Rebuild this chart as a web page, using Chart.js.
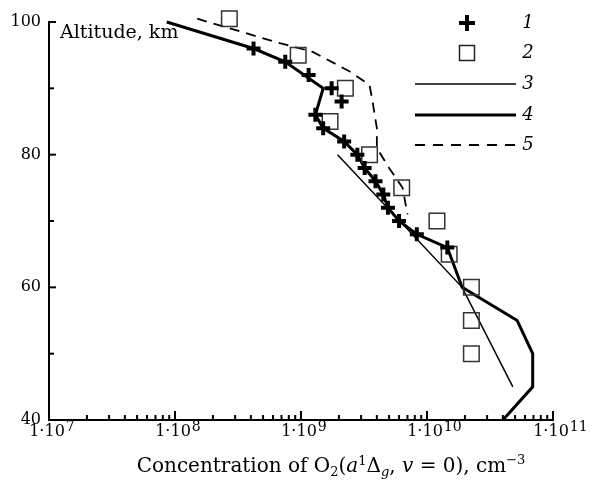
<!DOCTYPE html>
<html>
<head>
<meta charset="utf-8">
<script src="https://cdn.jsdelivr.net/npm/chart.js@4/dist/chart.umd.min.js"></script>
<style>
  html, body { margin: 0; padding: 0; background: #fff; }
  #wrap { width: 604px; height: 486px; }
</style>
</head>
<body>
<div id="wrap"><canvas id="chart" width="604" height="486"></canvas></div>
<script>
// series 1: crosses
const crossAlt = [96, 94, 92, 90, 88, 86, 84, 82, 80, 78, 76, 74, 72, 70, 68, 66];
const crossConc = [4.2e8, 7.5e8, 1.15e9, 1.75e9, 2.1e9, 1.3e9, 1.5e9, 2.2e9, 2.8e9, 3.2e9, 3.9e9, 4.5e9, 4.9e9, 6.0e9, 8.3e9, 1.45e10];
// series 2: squares
const squareAlt = [100.5, 95, 90, 85, 80, 75, 70, 65, 60, 55, 50];
const squareConc = [2.7e8, 9.5e8, 2.25e9, 1.7e9, 3.5e9, 6.3e9, 1.2e10, 1.5e10, 2.25e10, 2.25e10, 2.25e10];
// series 3: thin line
const line3Alt = [80, 60, 45];
const line3Conc = [1.95e9, 1.9e10, 4.8e10];
// series 4: thick line
const line4Alt = [100, 96, 94, 90, 86, 84, 82, 80, 78, 76, 74, 72, 70, 68, 66, 60, 55, 50, 45, 40];
const line4Conc = [8.6e7, 4.2e8, 7.5e8, 1.5e9, 1.3e9, 1.5e9, 2.2e9, 2.8e9, 3.2e9, 3.9e9, 4.5e9, 4.9e9, 6.0e9, 8.3e9, 1.45e10, 1.9e10, 5.2e10, 6.9e10, 6.9e10, 4.0e10];
// series 5: dashed line
const line5Alt = [100.5, 96.8, 95.5, 92.5, 90.5, 88, 84, 81, 78, 75, 71];
const line5Conc = [1.5e8, 6.8e8, 1.24e9, 2.46e9, 3.5e9, 3.7e9, 4.0e9, 4.0e9, 5.0e9, 6.4e9, 7.0e9];

const yTicks = [40, 60, 80, 100];
const xDecades = [7, 8, 9, 10, 11];
const legendLabels = ['1', '2', '3', '4', '5'];

const SERIF = '"DejaVu Serif", serif';

function pts(xs, ys) {
  return xs.map((x, i) => ({ x: x, y: ys[i] }));
}

// ticks inside, x labels with exponents, axis titles and legend
const decorations = {
  id: 'decorations',
  afterDraw(chart) {
    const ctx = chart.ctx;
    const xs = chart.scales.x, ys = chart.scales.y;
    const area = chart.chartArea;
    ctx.save();
    ctx.strokeStyle = '#000';
    ctx.lineWidth = 2;

    // y ticks
    for (let v = 40; v <= 100; v += 10) {
      const py = ys.getPixelForValue(v);
      const len = v % 20 === 0 ? 7 : 5;
      ctx.beginPath();
      ctx.moveTo(area.left, py);
      ctx.lineTo(area.left + len, py);
      ctx.stroke();
    }
    // x ticks
    xDecades.forEach(d => {
      for (let m = 1; m <= 9; m++) {
        if (d === 11 && m > 1) break;
        const px = xs.getPixelForValue(m * Math.pow(10, d));
        const len = m === 1 ? 9 : 5;
        ctx.beginPath();
        ctx.moveTo(px, area.bottom);
        ctx.lineTo(px, area.bottom - len);
        ctx.stroke();
      }
    });

    // x tick labels 1·10^n
    ctx.fillStyle = '#000';
    ctx.textBaseline = 'alphabetic';
    xDecades.forEach(d => {
      const px = xs.getPixelForValue(Math.pow(10, d));
      ctx.font = '16px ' + SERIF;
      const base = '1\u00b710';
      const w = ctx.measureText(base).width;
      ctx.textAlign = 'left';
      ctx.fillText(base, px - w / 2 - 2, area.bottom + 16);
      ctx.font = '14px ' + SERIF;
      ctx.fillText(String(d), px + w / 2 - 1, area.bottom + 11);
    });

    // y axis title inside plot
    ctx.font = '19px ' + SERIF;
    ctx.textAlign = 'left';
    ctx.fillText('Altitude, km', 60, 38);

    // x axis title with sub/superscripts
    const big = '20px ' + SERIF, bigI = 'italic 20px ' + SERIF;
    const small = '13px ' + SERIF, smallI = 'italic 13px ' + SERIF;
    const parts = [
      ['Concentration of O', big, 0], ['2', small, 4], ['(', big, 0], ['a', bigI, 0],
      ['1', small, -7], ['\u0394', big, 0], ['g', smallI, 4], [', ', big, 0], ['v', bigI, 0],
      [' = 0), cm', big, 0], ['\u22123', small, -8]
    ];
    let total = 0;
    parts.forEach(p => { ctx.font = p[1]; total += ctx.measureText(p[0]).width; });
    let cx = 331 - total / 2;
    const by = 472;
    parts.forEach(p => {
      ctx.font = p[1];
      ctx.fillText(p[0], cx, by + p[2]);
      cx += ctx.measureText(p[0]).width;
    });

    // legend
    const lx1 = 415, lx2 = 516, mx = 467, tx = 528;
    const rows = [23, 53, 84, 115, 145];
    // 1: cross
    ctx.lineWidth = 4;
    ctx.beginPath();
    ctx.moveTo(mx - 8, rows[0]); ctx.lineTo(mx + 8, rows[0]);
    ctx.moveTo(mx, rows[0] - 8); ctx.lineTo(mx, rows[0] + 8);
    ctx.stroke();
    // 2: square
    ctx.lineWidth = 1.5;
    ctx.strokeStyle = '#222';
    ctx.strokeRect(mx - 7.5, rows[1] - 7.5, 15, 15);
    ctx.strokeStyle = '#000';
    // 3, 4, 5: lines
    [[1.5, []], [3, []], [2, [10, 8]]].forEach((s, i) => {
      ctx.lineWidth = s[0];
      ctx.setLineDash(s[1]);
      ctx.beginPath();
      ctx.moveTo(lx1, rows[i + 2]);
      ctx.lineTo(lx2, rows[i + 2]);
      ctx.stroke();
    });
    ctx.setLineDash([]);
    ctx.font = 'italic 18px ' + SERIF;
    ctx.textAlign = 'center';
    ctx.textBaseline = 'middle';
    legendLabels.forEach((t, i) => ctx.fillText(t, tx, rows[i]));
    ctx.restore();
  }
};

new Chart(document.getElementById('chart'), {
  type: 'scatter',
  data: {
    datasets: [
      {
        label: '1', data: pts(crossConc, crossAlt), showLine: false,
        pointStyle: 'cross', pointRadius: 7, borderWidth: 4,
        borderColor: '#000', backgroundColor: '#000', clip: false
      },
      {
        label: '2', data: pts(squareConc, squareAlt), showLine: false,
        pointStyle: 'rect', pointRadius: 11, borderWidth: 1.5,
        borderColor: '#333', backgroundColor: 'rgba(0,0,0,0)', clip: false
      },
      {
        label: '3', data: pts(line3Conc, line3Alt), showLine: true,
        pointRadius: 0, borderWidth: 1.5, borderColor: '#000', clip: false
      },
      {
        label: '4', data: pts(line4Conc, line4Alt), showLine: true,
        pointRadius: 0, borderWidth: 3, borderColor: '#000', clip: false
      },
      {
        label: '5', data: pts(line5Conc, line5Alt), showLine: true,
        pointRadius: 0, borderWidth: 1.8, borderDash: [10, 7], borderColor: '#000', clip: false
      }
    ]
  },
  options: {
    responsive: false,
    animation: false,
    layout: { padding: { top: 22, right: 51, left: 0, bottom: 0 } },
    plugins: {
      legend: { display: false },
      tooltip: { enabled: false }
    },
    scales: {
      x: {
        type: 'logarithmic',
        min: 1e7,
        max: 1e11,
        grid: { display: false, drawTicks: false },
        border: { display: true, color: '#000', width: 2 },
        ticks: { display: false },
        afterFit: s => { s.height = 66; }
      },
      y: {
        type: 'linear',
        min: 40,
        max: 100,
        grid: { display: false, drawTicks: false },
        border: { display: true, color: '#000', width: 2 },
        afterBuildTicks: s => { s.ticks = yTicks.map(v => ({ value: v })); },
        ticks: {
          color: '#000',
          padding: 8,
          font: { family: 'DejaVu Serif', size: 16 }
        },
        afterFit: s => { s.width = 49; }
      }
    }
  },
  plugins: [decorations]
});
</script>
</body>
</html>
